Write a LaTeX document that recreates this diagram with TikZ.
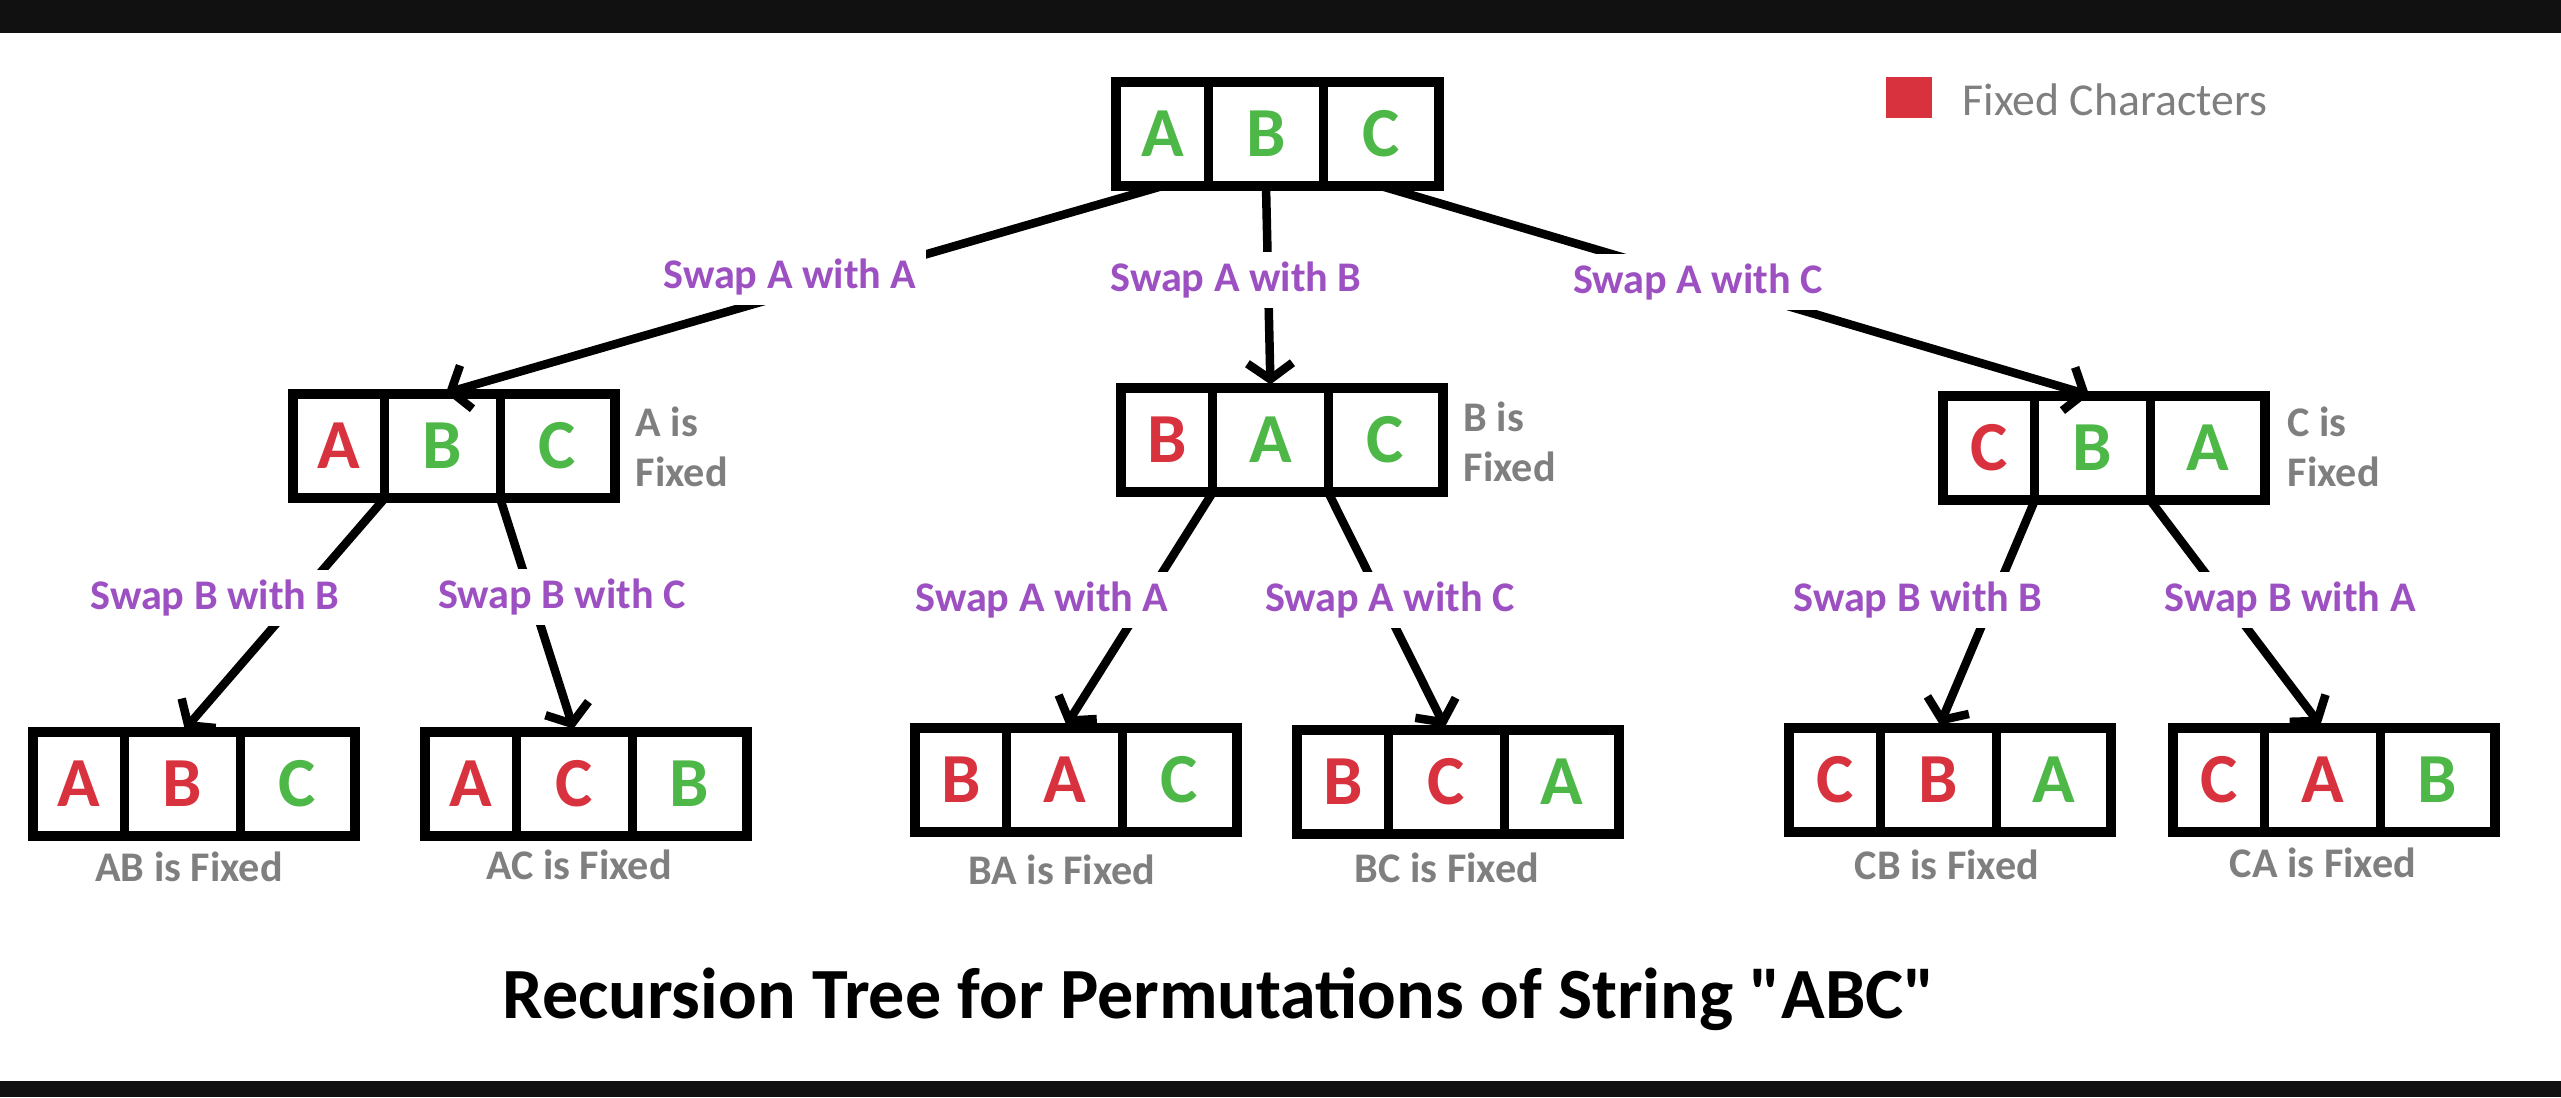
\documentclass[tikz,border=0pt]{standalone}
\usepackage{fontspec}
\setmainfont{Carlito}[Ligatures=TeXOff]
\usepackage{xcolor}
\definecolor{fixedRed}{HTML}{D8323E}
\definecolor{freeGreen}{HTML}{4DB848}
\definecolor{swapPurple}{HTML}{9C50C2}
\definecolor{noteGray}{HTML}{7F7F7F}
\definecolor{bandBlack}{HTML}{111111}
\usepackage{tikz}
\usetikzlibrary{arrows.meta,positioning}
\tikzset{
  permbox/.style={
    draw=black,
    fill=white,
    line width=0.1cm,
    minimum width=3.22cm,
    minimum height=1.04cm,
    inner sep=0pt,
    outer sep=0pt
  },
  permcell/.style={
    font=\fontsize{20}{24}\selectfont\bfseries,
    inner sep=0pt
  },
  permwall/.style={
    line width=0.09cm
  },
  swapline/.style={
    line width=0.085cm,
    -{Straight Barb[length=0.16cm,width=0.45cm]},
    shorten >=1pt
  },
  swaplabel/.style={
    fill=white,
    text=swapPurple,
    font=\fontsize{12}{14}\selectfont\bfseries,
    inner sep=0.1cm
  },
  fixednote/.style={
    text=noteGray,
    font=\fontsize{12}{14.2}\selectfont\bfseries,
    align=left,
    inner sep=0pt
  }
}
% box of three characters: name, centre, colour/letter of each cell
\newcommand{\permrow}[8]{%
  \node[permbox] (#1) at (#2) {};
  \coordinate (#1-d1) at ([xshift=0.92cm]#1.south west);
  \coordinate (#1-d2) at ([xshift=2.07cm]#1.south west);
  \draw[permwall] (#1-d1) -- ([xshift=0.92cm]#1.north west);
  \draw[permwall] (#1-d2) -- ([xshift=2.07cm]#1.north west);
  \node[permcell,text=#3] (#1-1) at ([xshift=0.46cm]#1.west) {#4};
  \node[permcell,text=#5] (#1-2) at ([xshift=1.495cm]#1.west) {#6};
  \node[permcell,text=#7] (#1-3) at ([xshift=2.645cm]#1.west) {#8};
}

\begin{document}
\begin{tikzpicture}[x=0.01cm,y=-0.01cm]
  \useasboundingbox (0,0) rectangle (2561,1097);
  \fill[white] (0,0) rectangle (2561,1097);
  \fill[bandBlack] (0,0) rectangle (2561,33);
  \fill[bandBlack] (0,1081) rectangle (2561,1097);

  \permrow{root}{1277.5,134}{freeGreen}{A}{freeGreen}{B}{freeGreen}{C}
  \permrow{L}{454,446}{fixedRed}{A}{freeGreen}{B}{freeGreen}{C}
  \permrow{M}{1282,440}{fixedRed}{B}{freeGreen}{A}{freeGreen}{C}
  \permrow{R}{2104,448}{fixedRed}{C}{freeGreen}{B}{freeGreen}{A}
  \permrow{LL}{194,784}{fixedRed}{A}{fixedRed}{B}{freeGreen}{C}
  \permrow{LR}{586,784}{fixedRed}{A}{fixedRed}{C}{freeGreen}{B}
  \permrow{ML}{1076,780}{fixedRed}{B}{fixedRed}{A}{freeGreen}{C}
  \permrow{MR}{1458,782}{fixedRed}{B}{fixedRed}{C}{freeGreen}{A}
  \permrow{RL}{1950,780}{fixedRed}{C}{fixedRed}{B}{freeGreen}{A}
  \permrow{RR}{2334,780}{fixedRed}{C}{fixedRed}{A}{freeGreen}{B}

  \foreach \cell/\kid in {1/L,2/M,3/R}{\draw[swapline] (root-\cell |- root.south) -- (\kid-2 |- \kid.north);}
  \foreach \parent/\wall/\kid in {L/d1/LL,L/d2/LR,M/d1/ML,M/d2/MR,R/d1/RL,R/d2/RR}{\draw[swapline] (\parent-\wall) -- (\kid-2 |- \kid.north);}

  \node[swaplabel] (sAA) at (790,277) {Swap A with A};
  \node[swaplabel] (sAB) at (1236,280) {Swap A with B};
  \node[swaplabel] (sAC) at (1698,282) {Swap A with C};
  \node[swaplabel] (sLBB) at (215,598) {Swap B with B};
  \node[swaplabel] (sLBC) at (562,597) {Swap B with C};
  \node[swaplabel] (sMAA) at (1042,600) {Swap A with A};
  \node[swaplabel] (sMAC) at (1390,600) {Swap A with C};
  \node[swaplabel] (sRBB) at (1918,600) {Swap B with B};
  \node[swaplabel] (sRBA) at (2290,600) {Swap B with A};

  \node[fixednote,anchor=west] (fixL) at (635,447) {A is\\Fixed};
  \node[fixednote,anchor=west] (fixM) at (1463,442) {B is\\Fixed};
  \node[fixednote,anchor=west] (fixR) at (2287,447) {C is\\Fixed};
  \node[fixednote] (fixLL) at (189,867) {AB is Fixed};
  \node[fixednote] (fixLR) at (579,865) {AC is Fixed};
  \node[fixednote] (fixML) at (1062,870) {BA is Fixed};
  \node[fixednote] (fixMR) at (1447,868) {BC is Fixed};
  \node[fixednote] (fixRL) at (1947,865) {CB is Fixed};
  \node[fixednote] (fixRR) at (2323,863) {CA is Fixed};

  \node[fill=fixedRed,minimum width=0.46cm,minimum height=0.41cm,inner sep=0pt] (legendkey) at (1909,97.5) {};
  \node[text=noteGray,font=\fontsize{13}{15}\selectfont,anchor=west,inner sep=0pt] (legendtext) at (1962,100) {Fixed Characters};

  \node[font=\fontsize{20.5}{24}\selectfont\bfseries,anchor=base,inner sep=0pt] (title) at (1219,1018) {Recursion Tree for Permutations of String "ABC"};
\end{tikzpicture}
\end{document}
